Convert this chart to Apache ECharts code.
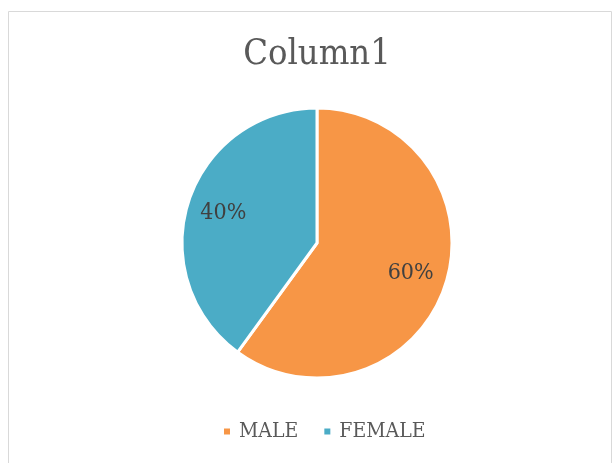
<!DOCTYPE html>
<html>
<head>
<meta charset="utf-8">
<script src="https://cdn.jsdelivr.net/npm/echarts@6/dist/echarts.min.js"></script>
<style>
  html, body { margin: 0; padding: 0; background: #fff; }
  #chart { width: 614px; height: 463px; }
</style>
</head>
<body>
<div id="chart"></div>
<script>
// chart data
const categories = ["MALE", "FEMALE"];
const values = [60, 40];
const colors = ["#F79646", "#4BACC6"];

const serif = "'DejaVu Serif Condensed', 'DejaVu Serif', serif";

const pieData = categories.map((name, i) => ({
  name: name,
  value: values[i],
  itemStyle: { color: colors[i] }
}));

const chart = echarts.init(document.getElementById("chart"));
chart.setOption({
  animation: false,
  textStyle: { fontFamily: serif },
  graphic: [{
    type: "rect",
    shape: { x: 8.5, y: 11.5, width: 603, height: 500 },
    style: { fill: "none", stroke: "#d9d9d9", lineWidth: 1 },
    silent: true
  }, {
    type: "text",
    x: 317,
    y: 37,
    style: {
      text: "Column1",
      font: "36px " + serif,
      fill: "#595959",
      align: "center",
      verticalAlign: "top"
    },
    silent: true
  }],
  legend: {
    top: 416,
    left: 217,
    icon: "rect",
    itemWidth: 8,
    itemHeight: 8,
    itemGap: 24,
    data: categories,
    textStyle: { fontFamily: serif, fontSize: 21, color: "#595959", padding: [0, 0, 0, 3] }
  },
  series: [
    {
      type: "pie",
      center: [317, 243],
      radius: [0, 135],
      startAngle: 90,
      clockwise: true,
      silent: true,
      label: { show: false },
      labelLine: { show: false },
      itemStyle: { borderColor: "#fff", borderWidth: 3 },
      data: pieData
    },
    {
      // transparent ring only used to place the percent labels
      type: "pie",
      center: [317, 243],
      radius: [56, 135],
      startAngle: 90,
      clockwise: true,
      silent: true,
      legendHoverLink: false,
      itemStyle: { color: "transparent" },
      label: {
        show: true,
        position: "inside",
        formatter: "{d}%",
        fontFamily: serif,
        fontSize: 23,
        color: "#404040"
      },
      labelLine: { show: false },
      data: categories.map((name, i) => ({ name: name + " ", value: values[i] }))
    }
  ]
});
</script>
</body>
</html>
